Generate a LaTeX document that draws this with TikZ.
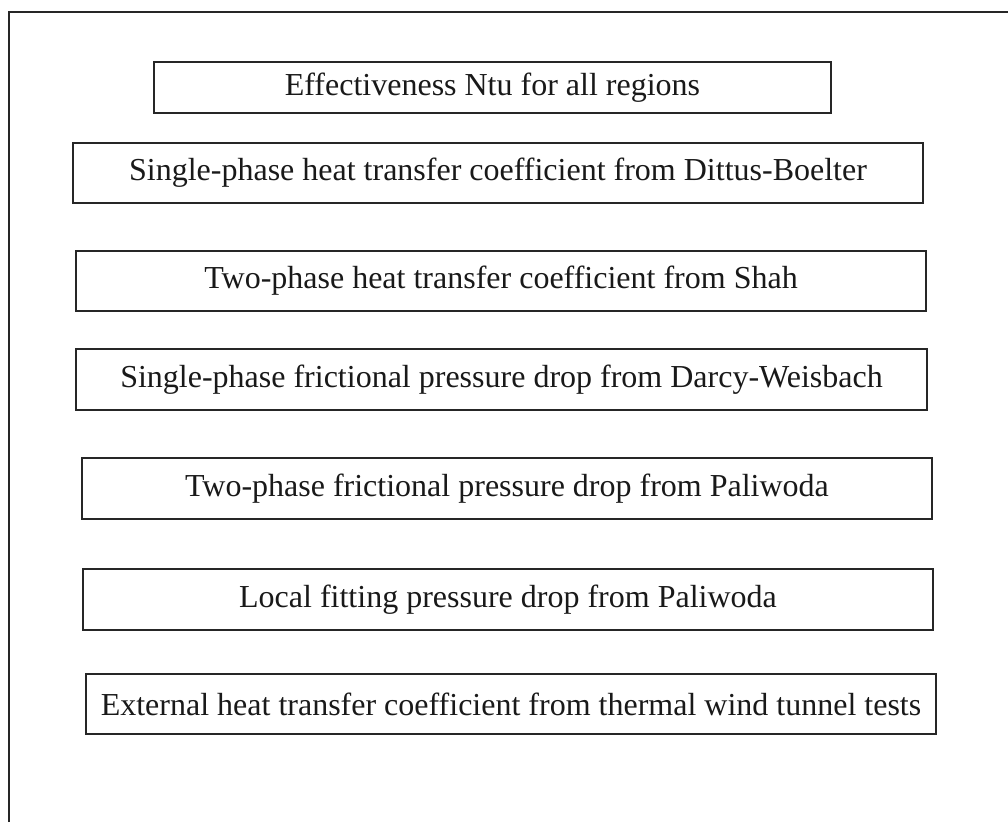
\documentclass[tikz,border=0pt]{standalone}
\usepackage{fontspec}
\setmainfont{Liberation Serif}
\begin{document}
\begin{tikzpicture}[x=1pt,y=-1pt,
  infobox/.style={draw=black!85, line width=1.6pt, inner sep=0pt, outer sep=0pt,
    font=\fontsize{32}{38}\selectfont, text=black!90, fill=white}]
\useasboundingbox[fill=white] (0,0) rectangle (1008,822);
\coordinate (fbl) at (9,822);
\coordinate (ftl) at (9,12);
\coordinate (ftr) at (1008,12);
\draw[line width=1.8pt, black!85] (fbl) -- (ftl) -- (ftr);
\node[infobox, minimum width=677pt, minimum height=51pt] (b1) at (492.5,87.5) {Effectiveness Ntu for all regions};
\node[infobox, minimum width=850pt, minimum height=60pt] (b2) at (498,173) {Single-phase heat transfer coefficient from Dittus-Boelter};
\node[infobox, minimum width=850pt, minimum height=60pt] (b3) at (501,281) {Two-phase heat transfer coefficient from Shah};
\node[infobox, minimum width=851pt, minimum height=61pt] (b4) at (501.5,379.5) {Single-phase frictional pressure drop from Darcy-Weisbach};
\node[infobox, minimum width=850pt, minimum height=61pt] (b5) at (507,488.5) {Two-phase frictional pressure drop from Paliwoda};
\node[infobox, minimum width=850pt, minimum height=61pt] (b6) at (508,599.5) {Local fitting pressure drop from Paliwoda};
\node[infobox, minimum width=850pt, minimum height=60pt] (b7) at (511,704) {External heat transfer coefficient from thermal wind tunnel tests};
\end{tikzpicture}
\end{document}
